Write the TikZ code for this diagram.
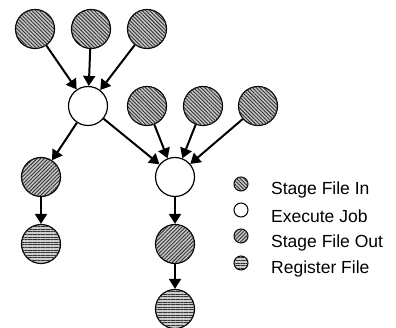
\documentclass[tikz,border=0pt]{standalone}
\usepackage{fontspec}
\setmainfont{Liberation Sans}
\usetikzlibrary{patterns.meta,arrows.meta}
\tikzset{
  job/.style={circle,draw=black,line width=1.2pt,minimum size=39pt,inner sep=0pt},
  sin/.style={job,fill=gray!45,postaction={pattern={Lines[angle=-45,distance=2.6pt,line width=0.9pt]},pattern color=black!80}},
  sout/.style={job,fill=gray!45,postaction={pattern={Lines[angle=45,distance=2.6pt,line width=0.9pt]},pattern color=black!80}},
  reg/.style={job,fill=gray!40,postaction={pattern={Lines[angle=0,distance=2.6pt,line width=0.9pt]},pattern color=black!80}},
  exe/.style={job,fill=white},
  lg/.style={minimum size=14pt,line width=1pt},
  flow/.style={line width=2pt,-{Triangle[length=10pt,width=12pt]}},
  lab/.style={anchor=west,inner sep=0pt,font=\fontsize{17.5pt}{20pt}\selectfont}
}
\begin{document}
\begin{tikzpicture}[x=1pt,y=-1pt]
\useasboundingbox (0,0) rectangle (396,328);
\node[sin] (t1) at (35,29) {};
\node[sin] (t2) at (91,29) {};
\node[sin] (t3) at (147,29) {};
\node[exe] (e1) at (88,106) {};
\node[sin] (r1) at (147,106) {};
\node[sin] (r2) at (203,106) {};
\node[sin] (r3) at (258,106) {};
\node[exe] (e2) at (175,177) {};
\node[sout] (lo) at (41,177) {};
\node[reg] (lr) at (41,244) {};
\node[sout] (ro) at (175,244) {};
\node[reg] (rr) at (175,309) {};
\draw[flow] (t1) -- (e1);
\draw[flow] (t2) -- (e1);
\draw[flow] (t3) -- (e1);
\draw[flow] (e1) -- (lo);
\draw[flow] (e1) -- (e2);
\draw[flow] (r1) -- (e2);
\draw[flow] (r2) -- (e2);
\draw[flow] (r3) -- (e2);
\draw[flow] (lo) -- (lr);
\draw[flow] (e2) -- (ro);
\draw[flow] (ro) -- (rr);
\node[sin,lg] (l1) at (241,184) {};
\node[exe,lg] (l2) at (241,210) {};
\node[sout,lg] (l3) at (241,236) {};
\node[reg,lg] (l4) at (241,263) {};
\node[lab] (x1) at (271,190) {Stage File In};
\node[lab] (x2) at (271,216) {Execute Job};
\node[lab] (x3) at (271,243) {Stage File Out};
\node[lab] (x4) at (271,269) {Register File};
\end{tikzpicture}
\end{document}
